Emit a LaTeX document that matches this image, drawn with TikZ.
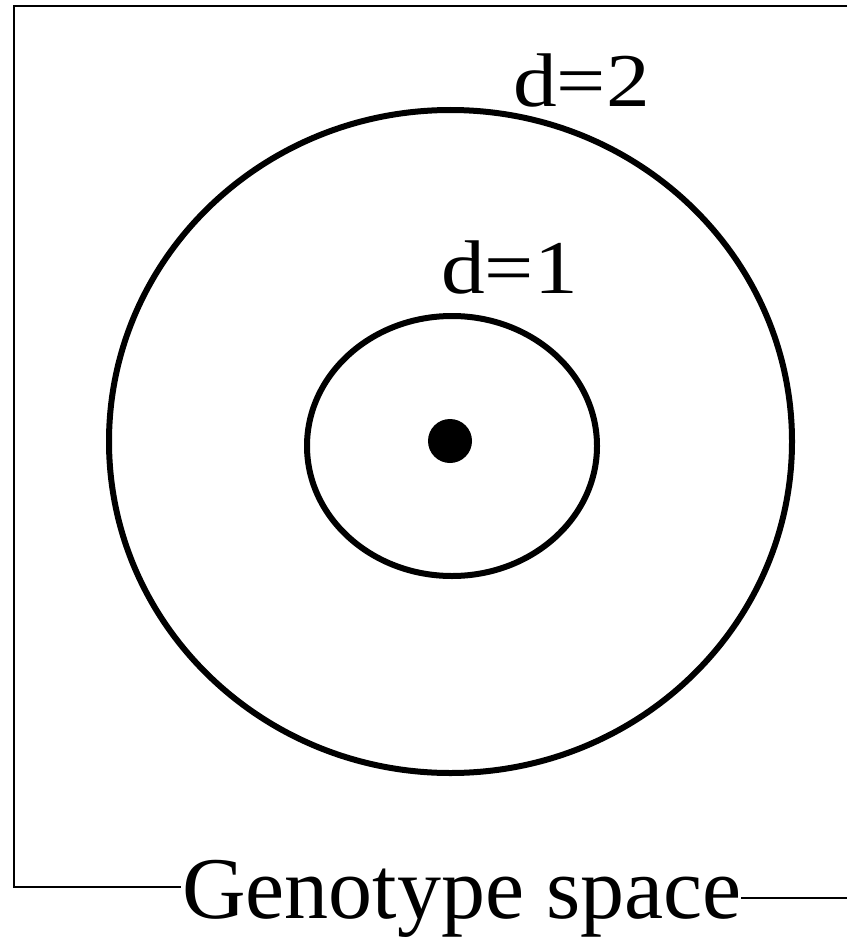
\documentclass[tikz,border=0pt]{standalone}
\usepackage{fontspec}
\setmainfont{Liberation Serif}
\begin{document}
\begin{tikzpicture}[x=1pt,y=-1pt,
  frame/.style={line width=2.5pt,black},
  ring/.style={line width=6pt,black},
  dlabel/.style={anchor=base west,inner sep=0pt,font=\fontsize{76}{76}\selectfont,xscale=1.15},
  glabel/.style={anchor=base west,inner sep=0pt,font=\fontsize{88}{88}\selectfont}]
\useasboundingbox (0,0) rectangle (847,939);
\fill[white] (0,0) rectangle (847,939);
% frame
\coordinate (tr) at (847,6);
\coordinate (tl) at (14,6);
\coordinate (bl) at (14,887);
\coordinate (blend) at (181,887);
\coordinate (brstart) at (741,898);
\coordinate (br) at (847,898);
\draw[frame] (tr) -- (tl) -- (bl) -- (blend);
\draw[frame] (brstart) -- (br);
\node[glabel] (gs) at (182,918) {Genotype space};
% circles
\draw[ring] (450.5,441.5) ellipse [x radius=341.5, y radius=331.5];
\draw[ring] (452,446) ellipse [x radius=145, y radius=130];
\fill (450,441) circle [radius=22];
\node[dlabel] (d2) at (513,107) {d=2};
\node[dlabel] (d1) at (441,293) {d=1};
\end{tikzpicture}
\end{document}
